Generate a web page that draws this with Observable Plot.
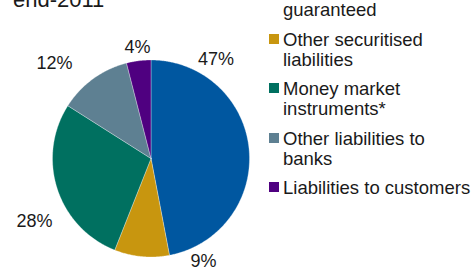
<!DOCTYPE html>
<html>
<head>
<meta charset="utf-8">
<script src="https://cdn.jsdelivr.net/npm/d3@7"></script>
<script src="https://cdn.jsdelivr.net/npm/@observablehq/plot@0.6"></script>
<style>
  html, body { margin: 0; padding: 0; background: #fff; }
  #wrap { position: relative; width: 472px; height: 268px; overflow: hidden; font-family: "Liberation Sans", Arial, Helvetica, sans-serif; color: #1a1a1a; }
  #title { position: absolute; left: 13px; top: -11px; font-size: 22px; line-height: 22px; white-space: nowrap; }
  #legend { position: absolute; left: 269px; top: -20px; font-size: 18.5px; line-height: 20px; }
  .item { position: relative; padding-left: 14px; margin-bottom: 9.5px; white-space: pre; }
  .sw { position: absolute; left: 0; top: 4px; width: 10px; height: 10px; }
  #chart { position: absolute; left: 0; top: 0; }
</style>
</head>
<body>
<div id="wrap">
  <div id="chart"></div>
  <div id="title"></div>
  <div id="legend"></div>
</div>
<script>
// ---- data ----
const titleText = "end-2011";
const categories = [
  "Securitised liabilities\nguaranteed",
  "Other securitised\nliabilities",
  "Money market\ninstruments*",
  "Other liabilities to\nbanks",
  "Liabilities to customers"
];
const shares = [47, 9, 28, 12, 4];
const colors = ["#0057a0", "#c8960f", "#007060", "#5e8092", "#4f0080"];

// ---- label layout (angle clockwise from top, in degrees; radius relative to pie) ----
const labelAngle = [33.1, 152.8, 241.5, 314.6, 353.1];
const labelRadius = [1.209, 1.167, 1.345, 1.377, 1.133];

// ---- build slices ----
const total = d3.sum(shares);
let acc = 0;
const slices = shares.map((v, i) => {
  const a0 = acc / total * 2 * Math.PI;
  acc += v;
  const a1 = acc / total * 2 * Math.PI;
  const pts = [{x: 0, y: 0}];
  const n = Math.max(2, Math.ceil((a1 - a0) / (Math.PI / 360)));
  for (let k = 0; k <= n; k++) {
    const a = a0 + (a1 - a0) * k / n;
    pts.push({x: Math.sin(a), y: Math.cos(a)});
  }
  pts.push({x: 0, y: 0});
  return {i, pts};
});

const labelData = shares.map((v, i) => {
  const a = labelAngle[i] * Math.PI / 180;
  return {x: labelRadius[i] * Math.sin(a), y: labelRadius[i] * Math.cos(a), text: `${v}%`};
});

const cx = 150.5, cy = 158, r = 98.5, W = 472, H = 268;

const plot = Plot.plot({
  width: W,
  height: H,
  marginLeft: cx - r,
  marginRight: W - (cx + r),
  marginTop: cy - r,
  marginBottom: H - (cy + r),
  x: {domain: [-1, 1], axis: null},
  y: {domain: [-1, 1], axis: null},
  style: {fontFamily: '"Liberation Sans", Arial, Helvetica, sans-serif', fontSize: "18px", background: "transparent", overflow: "visible"},
  marks: [
    ...slices.map(s => Plot.line(s.pts, {x: "x", y: "y", fill: colors[s.i], stroke: "#ffffff", strokeWidth: 0.5, strokeOpacity: 0.6, strokeLinejoin: "round"})),
    Plot.text(labelData, {x: "x", y: "y", text: "text", fontSize: 18, fill: "#1a1a1a"})
  ]
});
document.getElementById("chart").appendChild(plot);

document.getElementById("title").textContent = titleText;
const legend = document.getElementById("legend");
categories.forEach((c, i) => {
  const item = document.createElement("div");
  item.className = "item";
  const sw = document.createElement("span");
  sw.className = "sw";
  sw.style.background = colors[i];
  item.appendChild(sw);
  item.appendChild(document.createTextNode(c));
  legend.appendChild(item);
});
</script>
</body>
</html>
